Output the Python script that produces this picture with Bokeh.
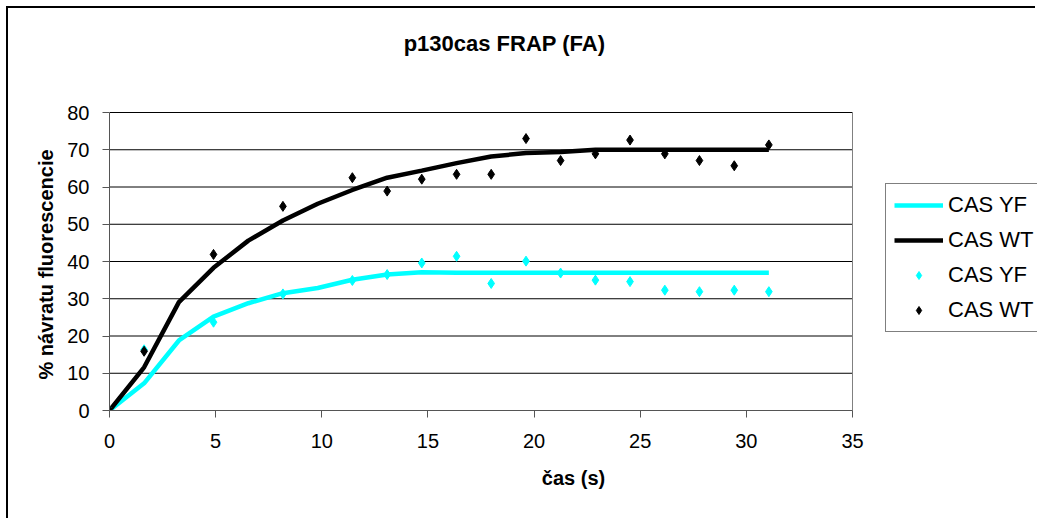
from bokeh.plotting import figure
from bokeh.models import Range1d, Legend, LegendItem, FixedTicker, Label, Title
from bokeh.embed import file_html
from bokeh.resources import INLINE

# ---- data ----
title_text = "p130cas FRAP (FA)"
x_label = "čas (s)"
y_label = "% návratu fluorescencie"

time_line = [0, 1.63, 3.27, 4.9, 6.54, 8.17, 9.81, 11.44, 13.08, 14.71,
             16.35, 17.98, 19.62, 21.25, 22.89, 24.52, 26.16, 27.79, 29.43, 31.06]
yf_line = [0, 7.3, 18.8, 25.2, 28.8, 31.5, 32.9, 35.1, 36.5, 37.1,
           37.0, 37.0, 37.0, 37.0, 37.0, 37.0, 37.0, 37.0, 37.0, 37.0]
wt_line = [0, 11.6, 29.1, 38.3, 45.6, 51.0, 55.5, 59.2, 62.5, 64.4,
           66.4, 68.2, 69.1, 69.4, 70.0, 70.0, 70.0, 70.0, 70.0, 70.0]

yf_t = [0, 1.63, 4.9, 8.17, 11.44, 13.08, 14.71, 16.35, 17.98, 19.62,
        21.25, 22.89, 24.52, 26.16, 27.79, 29.43, 31.06]
yf_pts = [0, 16.3, 23.7, 31.3, 34.9, 36.5, 39.6, 41.4, 34.1, 40.1,
          36.9, 35.0, 34.6, 32.3, 31.9, 32.3, 31.9]
wt_t = [0, 1.63, 4.9, 8.17, 11.44, 13.08, 14.71, 16.35, 17.98, 19.62,
        21.25, 22.89, 24.52, 26.16, 27.79, 29.43, 31.06]
wt_pts = [0, 15.9, 41.9, 54.8, 62.5, 58.9, 62.1, 63.4, 63.4, 73.0,
          67.1, 68.9, 72.6, 68.9, 67.1, 65.7, 71.3]

x_ticks = [0, 5, 10, 15, 20, 25, 30, 35]
y_ticks = [0, 10, 20, 30, 40, 50, 60, 70, 80]
series_names = ["CAS YF", "CAS WT", "CAS YF", "CAS WT"]

CYAN = "#00FFFF"
BLACK = "#000000"
FONT = "Liberation Sans"

x_lo, x_hi = x_ticks[0], x_ticks[-1]
y_lo, y_hi = y_ticks[0], y_ticks[-1]

# frame extends to the right / top so that title and legend can sit inside it
FRAME_W, FRAME_H = 928, 402
AX_W, AX_H = 743, 298
p = figure(width=1029, height=512, output_backend="svg", toolbar_location=None,
           x_range=Range1d(x_lo, x_hi * FRAME_W / AX_W),
           y_range=Range1d(y_lo, y_hi * FRAME_H / AX_H),
           min_border_left=101, min_border_right=0,
           min_border_top=0, min_border_bottom=110)
p.styles = {"margin-left": "6px", "margin-top": "6px",
            "border-left": "2px solid black", "border-top": "2px solid black"}

p.outline_line_color = None
p.xgrid.grid_line_color = None
p.ygrid.grid_line_color = None

# plot-area gridlines and right border limited to the data area
n = len(y_ticks)
p.segment(x0=[x_lo] * n, x1=[x_hi] * n, y0=y_ticks, y1=y_ticks,
          line_color="#000000", line_width=1)
p.segment(x0=[x_hi], x1=[x_hi], y0=[y_lo], y1=[y_hi],
          line_color="#808080", line_width=1)

p.xaxis.ticker = FixedTicker(ticks=x_ticks)
p.yaxis.ticker = FixedTicker(ticks=y_ticks)
p.xaxis.bounds = (x_lo, x_hi)
p.yaxis.bounds = (y_lo, y_hi)
for ax in (p.xaxis, p.yaxis):
    ax.axis_line_color = "#555555"
    ax.major_tick_line_color = "#555555"
    ax.minor_tick_line_color = None
    ax.major_tick_in = 0
    ax.major_tick_out = 7
    ax.major_label_text_font = FONT
    ax.major_label_text_font_size = "20px"
    ax.major_label_text_color = "black"
    ax.axis_label_text_font = FONT
    ax.axis_label_text_font_size = "20px"
    ax.axis_label_text_font_style = "bold"
    ax.axis_label_text_color = "black"

p.xaxis.axis_label = x_label
p.xaxis.major_label_standoff = 16
p.yaxis.major_label_standoff = 13
p.xaxis.axis_label_standoff = 16

# y-axis title as a side title so it can be centred on the data area
ytitle = Title(text=y_label, align="left", offset=31, standoff=16,
               text_font=FONT, text_font_size="20px", text_font_style="bold",
               text_color="black")
p.add_layout(ytitle, "left")

r1 = p.line(time_line, yf_line, line_color=CYAN, line_width=4.5)
r2 = p.line(time_line, wt_line, line_color=BLACK, line_width=4.5)
r3 = p.scatter(yf_t, yf_pts, marker="diamond", size=10,
               fill_color=CYAN, line_color=CYAN)
r4 = p.scatter(wt_t, wt_pts, marker="diamond", size=10,
               fill_color=BLACK, line_color=BLACK)

legend = Legend(items=[LegendItem(label=series_names[0], renderers=[r1]),
                       LegendItem(label=series_names[1], renderers=[r2]),
                       LegendItem(label=series_names[2], renderers=[r3]),
                       LegendItem(label=series_names[3], renderers=[r4])],
                location=(776, 78))
legend.label_text_font = FONT
legend.label_text_font_size = "22px"
legend.label_text_color = "black"
legend.glyph_width = 49
legend.glyph_height = 20
legend.label_height = 20
legend.label_standoff = 5
legend.spacing = 9
legend.padding = 8
legend.margin = 0
legend.border_line_color = "black"
legend.border_line_width = 1
legend.background_fill_color = "white"
legend.background_fill_alpha = 1
p.add_layout(legend, "center")

title = Label(x=395, y=367, x_units="screen", y_units="screen", text=title_text,
              text_font=FONT, text_font_size="22px", text_font_style="bold",
              text_align="center", text_baseline="middle", text_color="black")
p.add_layout(title)

open("out.html", "w").write(file_html(p, INLINE))
